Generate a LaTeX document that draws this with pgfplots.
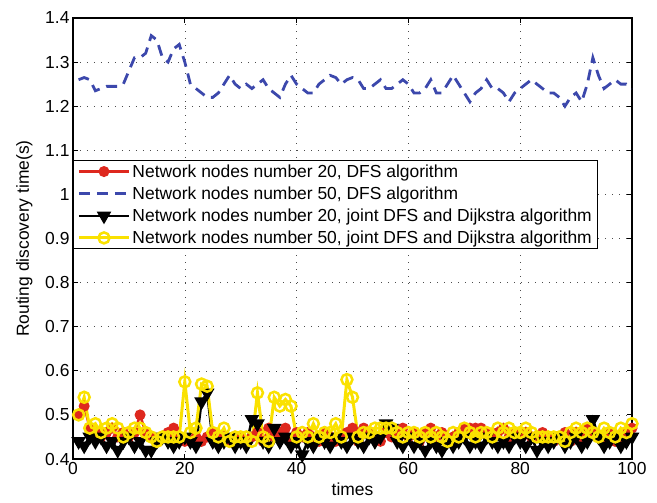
\documentclass[border=0pt]{standalone}
\usepackage{pgfplots}
\pgfplotsset{compat=1.18}
\usepackage{fontspec}
\setmainfont{Liberation Sans}
\definecolor{mred}{RGB}{222,40,30}
\definecolor{mblue}{RGB}{60,72,172}
\definecolor{myellow}{RGB}{250,225,0}
\begin{document}
\begin{tikzpicture}
\begin{axis}[
    scale only axis,
    width=559bp, height=441bp,
    xmin=0, xmax=100, ymin=0.4, ymax=1.4,
    xtick={0,20,...,100},
    ytick={0.4,0.5,...,1.4},
    yticklabel style={/pgf/number format/.cd, fixed, precision=1},
    /pgf/number format/assume math mode=true,
    font=\fontsize{17.5}{20.5}\selectfont,
    tick label style={font=\fontsize{17.5}{20.5}\selectfont},
    xlabel={times}, ylabel={Routing discovery time(s)},
    xlabel style={yshift=-1bp},
    ylabel style={yshift=6bp},
    grid=major,
    major grid style={black!70, line width=0.5bp, dash pattern=on 1bp off 6bp},
    axis line style={line width=1.2bp},
    tick style={line width=0.8bp, black},
    major tick length=5bp,
    tick align=inside,
    legend cell align=left,
    legend style={at={(rel axis cs:0,0.678)}, anchor=north west,
        draw=black, line width=1bp, fill=white,
        font=\fontsize{17.5}{20.5}\selectfont, row sep=4bp,
        inner xsep=4bp, inner ysep=2bp},
    legend image code/.code={\draw[mark repeat=2,mark phase=2,#1] plot coordinates {(0bp,0bp) (25bp,0bp) (50bp,0bp)};},
]

% Network nodes number 20, DFS algorithm
\addplot[mred, line width=2.5bp, mark=*, mark size=4.2bp, mark options={fill=mred, draw=mred}] table {
x y
1 0.50
2 0.52
3 0.47
4 0.46
5 0.45
6 0.46
7 0.47
8 0.45
9 0.46
10 0.45
11 0.46
12 0.50
13 0.46
14 0.45
15 0.44
16 0.45
17 0.46
18 0.47
19 0.45
20 0.44
21 0.44
22 0.45
23 0.44
24 0.45
25 0.46
26 0.44
27 0.45
28 0.44
29 0.45
30 0.45
31 0.44
32 0.45
33 0.46
34 0.44
35 0.47
36 0.45
37 0.46
38 0.47
39 0.44
40 0.46
41 0.45
42 0.46
43 0.45
44 0.44
45 0.46
46 0.45
47 0.44
48 0.45
49 0.46
50 0.47
51 0.44
52 0.47
53 0.46
54 0.45
55 0.44
56 0.46
57 0.45
58 0.46
59 0.47
60 0.45
61 0.46
62 0.44
63 0.46
64 0.47
65 0.45
66 0.46
67 0.44
68 0.45
69 0.46
70 0.47
71 0.47
72 0.47
73 0.47
74 0.46
75 0.45
76 0.46
77 0.47
78 0.45
79 0.46
80 0.45
81 0.46
82 0.45
83 0.45
84 0.46
85 0.45
86 0.44
87 0.45
88 0.46
89 0.44
90 0.46
91 0.45
92 0.47
93 0.46
94 0.45
95 0.44
96 0.46
97 0.44
98 0.45
99 0.46
100 0.47
};
\addlegendentry{Network nodes number 20, DFS algorithm}

% Network nodes number 50, DFS algorithm
\addplot[mblue, line width=2.8bp, dash pattern=on 11bp off 7bp] table {
x y
1 1.26
2 1.265
3 1.26
4 1.235
5 1.24
6 1.245
7 1.245
8 1.245
9 1.25
10 1.28
11 1.31
12 1.31
13 1.32
14 1.36
15 1.35
16 1.31
17 1.30
18 1.33
19 1.34
20 1.30
21 1.25
22 1.24
23 1.23
24 1.22
25 1.22
26 1.23
27 1.25
28 1.27
29 1.25
30 1.24
31 1.25
32 1.24
33 1.25
34 1.26
35 1.24
36 1.23
37 1.22
38 1.25
39 1.27
40 1.25
41 1.24
42 1.23
43 1.23
44 1.25
45 1.26
46 1.27
47 1.265
48 1.25
49 1.26
50 1.265
51 1.26
52 1.24
53 1.24
54 1.25
55 1.26
56 1.24
57 1.24
58 1.25
59 1.26
60 1.25
61 1.23
62 1.23
63 1.24
64 1.26
65 1.23
66 1.23
67 1.25
68 1.27
69 1.25
70 1.23
71 1.21
72 1.23
73 1.24
74 1.26
75 1.24
76 1.24
77 1.23
78 1.21
79 1.23
80 1.24
81 1.25
82 1.26
83 1.25
84 1.24
85 1.23
86 1.23
87 1.22
88 1.20
89 1.22
90 1.23
91 1.21
92 1.25
93 1.31
94 1.27
95 1.24
96 1.25
97 1.26
98 1.25
99 1.25
100 1.24
};
\addlegendentry{Network nodes number 50, DFS algorithm}

% Network nodes number 20, joint DFS and Dijkstra algorithm
\addplot[black, line width=2.5bp, mark=triangle*, mark size=6bp, mark options={rotate=180, fill=black, solid}] table {
x y
1 0.44
2 0.43
3 0.45
4 0.44
5 0.45
6 0.43
7 0.44
8 0.42
9 0.44
10 0.45
11 0.43
12 0.44
13 0.42
14 0.42
15 0.44
16 0.45
17 0.44
18 0.43
19 0.44
20 0.45
21 0.44
22 0.43
23 0.53
24 0.55
25 0.44
26 0.43
27 0.44
28 0.45
29 0.43
30 0.44
31 0.43
32 0.49
33 0.48
34 0.44
35 0.43
36 0.47
37 0.44
38 0.45
39 0.43
40 0.44
41 0.41
42 0.44
43 0.43
44 0.45
45 0.44
46 0.43
47 0.45
48 0.44
49 0.43
50 0.45
51 0.44
52 0.43
53 0.45
54 0.44
55 0.45
56 0.48
57 0.47
58 0.44
59 0.43
60 0.45
61 0.43
62 0.44
63 0.42
64 0.44
65 0.43
66 0.42
67 0.44
68 0.43
69 0.44
70 0.45
71 0.43
72 0.44
73 0.43
74 0.45
75 0.44
76 0.43
77 0.44
78 0.43
79 0.45
80 0.44
81 0.43
82 0.45
83 0.42
84 0.44
85 0.43
86 0.44
87 0.45
88 0.43
89 0.44
90 0.45
91 0.43
92 0.44
93 0.49
94 0.45
95 0.43
96 0.44
97 0.45
98 0.43
99 0.44
100 0.45
};
\addlegendentry{Network nodes number 20, joint DFS and Dijkstra algorithm}

% Network nodes number 50, joint DFS and Dijkstra algorithm
\addplot[myellow, line width=3bp, mark=o, mark size=5.5bp, mark options={line width=2.5bp, solid}] table {
x y
1 0.50
2 0.54
3 0.47
4 0.48
5 0.46
6 0.47
7 0.48
8 0.47
9 0.45
10 0.46
11 0.47
12 0.47
13 0.46
14 0.45
15 0.44
16 0.45
17 0.45
18 0.45
19 0.45
20 0.575
21 0.46
22 0.47
23 0.57
24 0.565
25 0.46
26 0.45
27 0.47
28 0.44
29 0.45
30 0.45
31 0.45
32 0.44
33 0.55
34 0.45
35 0.44
36 0.54
37 0.52
38 0.535
39 0.52
40 0.45
41 0.46
42 0.45
43 0.48
44 0.45
45 0.46
46 0.46
47 0.48
48 0.45
49 0.58
50 0.54
51 0.45
52 0.46
53 0.46
54 0.47
55 0.47
56 0.47
57 0.47
58 0.46
59 0.45
60 0.46
61 0.46
62 0.45
63 0.46
64 0.45
65 0.46
66 0.45
67 0.44
68 0.46
69 0.45
70 0.47
71 0.46
72 0.45
73 0.46
74 0.46
75 0.45
76 0.47
77 0.46
78 0.47
79 0.46
80 0.46
81 0.47
82 0.46
83 0.45
84 0.45
85 0.45
86 0.45
87 0.45
88 0.44
89 0.46
90 0.47
91 0.46
92 0.47
93 0.46
94 0.45
95 0.47
96 0.46
97 0.45
98 0.47
99 0.46
100 0.48
};
\addlegendentry{Network nodes number 50, joint DFS and Dijkstra algorithm}

\end{axis}
\pgfresetboundingbox
\path ([shift={(-73bp,-44bp)}]current axis.south west) rectangle ([shift={(25bp,18bp)}]current axis.north east);
\end{tikzpicture}
\end{document}
